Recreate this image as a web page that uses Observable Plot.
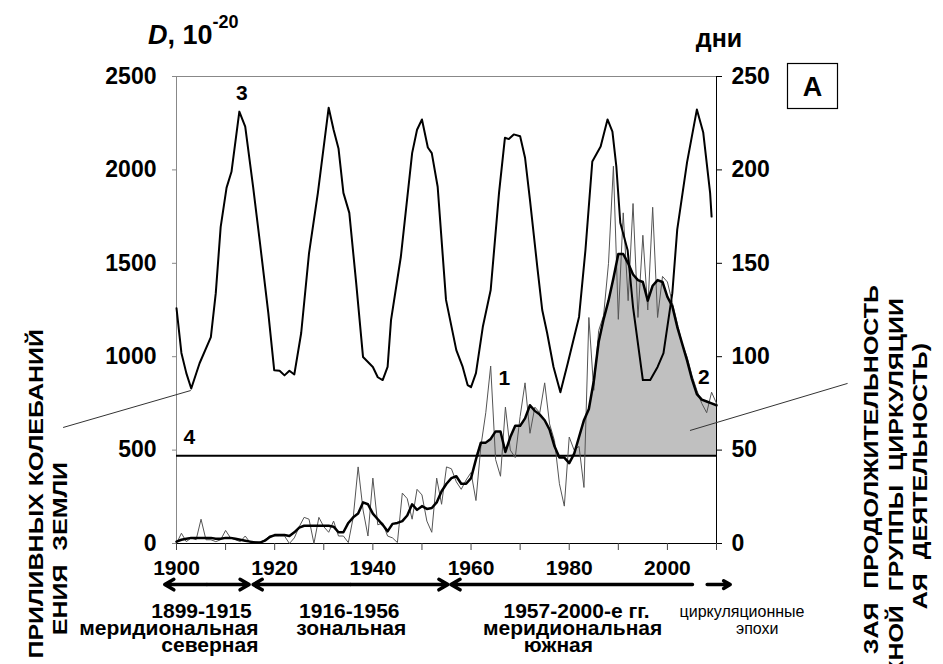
<!DOCTYPE html>
<html><head><meta charset="utf-8">
<script src="https://cdn.jsdelivr.net/npm/d3@7"></script>
<script src="https://cdn.jsdelivr.net/npm/@observablehq/plot@0.6"></script>
<style>
body{margin:0;background:#fff;}
#chart{position:relative;width:943px;height:664px;overflow:hidden;background:#fff;}
</style></head><body><div id="chart"></div>
<script>
// ---- data ----
const years = d3.range(1900, 2011);
// annual duration of the circulation group, days (thin line)
const annualDays = [
  0, 5.5, 1, 3, 2, 13, 2, 2, 1, 2,
  7, 3, 2, 1, 4, 0.5, 1, 0.5, 2, 4,
  4, 4, 4, 0, 3, 9, 14, 13, 0, 14,
  9, 6, 12, 4, 4, 0.5, 14, 41, 18, 4,
  35, 10, 11, 4, 3, 0.5, 27, 24, 13, 29,
  26, 12, 6, 35, 21, 41, 40, 33, 29, 34,
  38, 23, 52, 70, 95, 45, 36, 73, 50, 46,
  68, 86, 59, 73, 70, 86, 64, 55, 32, 20,
  57, 50, 52, 30, 121, 82, 114, 122, 150, 202,
  120, 177, 130, 182, 121, 165, 125, 180, 121, 143,
  140, 129, 118, 107, 100, 90, 82, 75, 70, 81, 75
];
// smoothed duration, days (thick line)
const smoothDays = [
  1, 2, 2.5, 3, 3, 3, 3, 3, 2.5, 2.5,
  3, 3, 2.5, 2, 1.5, 1, 0.5, 0.5, 1.5, 3.5,
  4.5, 4.5, 4.5, 4, 6, 8.5, 9.5, 9.5, 9.5, 9.5,
  9.5, 9.5, 9, 6, 6, 11, 14, 16, 22, 21,
  16, 13, 10, 6.5, 10.5, 11, 12, 15, 21, 18,
  20, 18.5, 19, 22, 28, 32, 35, 36, 32, 32,
  35, 45, 54, 54, 56, 60, 60, 49, 57, 63,
  63, 67, 74, 71, 69, 66, 61, 52, 46, 46,
  43, 48, 57, 66, 72, 87, 108, 120, 130, 142,
  155, 155, 150, 144, 141, 140, 130, 138, 141, 140,
  132, 127, 116, 107, 98, 88, 80, 77, 76, 75, 74
];
// tidal oscillation amplitude D, 10^-20
const tideYears = [1900,1901,1902,1903,1904.7,1907,1908,1909,1910.2,1911.2,1912.8,1914,1915.6,1917,1918.7,1919.9,1921,1922,1923,1924,1925.4,1927,1928.8,1931,1932,1933,1934,1935.2,1936.6,1938,1940,1941,1942,1943,1943.7,1945.7,1948,1949,1950,1951.2,1952,1953.2,1954.9,1957,1958.3,1959.3,1960,1961,1962.4,1964,1965.7,1966.9,1967.7,1968.7,1970,1971,1972,1973.5,1974.5,1975.5,1976.8,1978.2,1979.7,1982,1983.3,1984.7,1986.4,1987.8,1988.8,1989.6,1990.4,1991.9,1993,1995,1996.5,1998,1999.2,2001,2002,2004,2006,2007.3,2008.7,2009];
const tideD = [1260,1020,912,830,965,1105,1340,1695,1905,1990,2312,2232,1910,1610,1234,928,925,900,925,905,1127,1555,1877,2333,2215,2115,1877,1770,1395,998,945,890,875,945,1196,1535,2090,2215,2270,2120,2090,1910,1304,1035,945,848,837,912,1160,1357,1877,2172,2165,2190,2180,2065,1840,1480,1250,1127,945,810,965,1213,1570,2045,2125,2270,2205,2017,1717,1570,1266,875,875,945,1019,1340,1680,2040,2323,2200,1877,1750];
const baselineDays = 47;
const yTicks = [0, 500, 1000, 1500, 2000, 2500];
const xTicks = [1900, 1910, 1920, 1930, 1940, 1950, 1960, 1970, 1980, 1990, 2000, 2010];

// annotation numbers
const markText = ["1", "2", "3", "4"];
const markX = [1966.8, 2007.4, 1913.3, 1902.6];
const markY = [885, 890, 2410, 570];

// era arrows (years) and labels
const arrowFrom = [1906.2, 1906.2, 1935.5, 1935.5, 2005.1, 2008.1];
const arrowTo   = [1897.6, 1914.8, 1915.6, 1955.3, 1955.9, 2012.8];
const eraText = ["1899-1915", "меридиональная", "северная", "1916-1956", "зональная", "1957-2000-е гг.", "меридиональная", "южная"];
const eraX = [1905.1, 1916.7, 1916.7, 1935.2, 1935.6, 1981.5, 1980.7, 1977.8];
const eraRow = [0, 1, 2, 0, 1, 0, 1, 2];
const eraAnchor = ["middle", "end", "end", "middle", "middle", "middle", "middle", "middle"];
const epochText = ["циркуляционные", "эпохи"];
const epochX = [2015.2, 2018.3];
const rowY = [-364, -455, -546];

// leader lines
const leaderX1 = [1876.9, 2036.7], leaderY1 = [621, 857];
const leaderX2 = [1902.9, 2004.6], leaderY2 = [819, 605];

// ---- tables ----
const data = years.map((y, i) => ({year: y, annual: annualDays[i], smooth: smoothDays[i]}));
const tide = tideYears.map((y, i) => ({year: y, D: tideD[i]}));
const marks = markText.map((t, i) => ({t, x: markX[i], y: markY[i]}));
const arrows = arrowFrom.map((a, i) => ({a, b: arrowTo[i]}));
const eras = eraText.map((t, i) => ({t, x: eraX[i], y: rowY[eraRow[i]], anchor: eraAnchor[i]}));
const epochs = epochText.map((t, i) => ({t, x: epochX[i], y: rowY[i]}));
const leaders = leaderX1.map((x, i) => ({x1: x, y1: leaderY1[i], x2: leaderX2[i], y2: leaderY2[i]}));

const FONT = "'Liberation Sans', Arial, sans-serif";

const plot = Plot.plot({
  width: 943, height: 664,
  marginLeft: 176, marginRight: 227, marginTop: 76, marginBottom: 121,
  style: {fontFamily: FONT, fontSize: "22px", fontWeight: "bold", background: "#fff", color: "#000", overflow: "visible"},
  x: {domain: [1900, 2010]},
  y: {domain: [0, 2500]},
  marks: [
    Plot.areaY(data, {x: "year", y1: d => baselineDays * 10, y2: d => Math.max(d.smooth, baselineDays) * 10, fill: "#c0c0c0"}),
    Plot.ruleY([2500], {stroke: "#888", strokeWidth: 1}),
    Plot.ruleX([1900], {stroke: "#888", strokeWidth: 1}),
    Plot.ruleX([2010], {stroke: "#000", strokeWidth: 1}),
    Plot.ruleY([0], {stroke: "#000", strokeWidth: 1}),
    Plot.ruleY([baselineDays * 10], {stroke: "#000", strokeWidth: 2}),
    Plot.line(data, {x: "year", y: d => d.annual * 10, stroke: "#555", strokeWidth: 1}),
    Plot.line(data, {x: "year", y: d => d.smooth * 10, stroke: "#000", strokeWidth: 2.5}),
    Plot.line(tide, {x: "year", y: "D", stroke: "#000", strokeWidth: 2}),
    Plot.axisX({ticks: xTicks, tickFormat: d => d % 20 === 0 ? String(d) : "", tickSize: 7, tickPadding: 10, fontSize: 21, label: null, stroke: "#444"}),
    Plot.axisY({ticks: yTicks, tickFormat: d => String(d), tickSize: 4, tickPadding: 16, fontSize: 23, label: null, stroke: "#888"}),
    Plot.axisY({anchor: "right", ticks: yTicks, tickFormat: d => String(d / 10), tickSize: 5, tickPadding: 10, fontSize: 23, label: null, stroke: "#000"}),
    Plot.text(marks, {x: "x", y: "y", text: "t", fontSize: 21, fontWeight: "bold"}),
    Plot.link(leaders, {x1: "x1", y1: "y1", x2: "x2", y2: "y2", stroke: "#333", strokeWidth: 1}),
    Plot.arrow(arrows, {x1: "a", x2: "b", y1: d => -220, y2: d => -220, stroke: "#000", strokeWidth: 3.5, headLength: 4.5, headAngle: 60, bend: 0, insetStart: 0, insetEnd: 0}),
    Plot.text(eras.filter(d => d.anchor === "middle"), {x: "x", y: "y", text: "t", textAnchor: "middle", fontSize: 21, fontWeight: "bold"}),
    Plot.text(eras.filter(d => d.anchor === "end"), {x: "x", y: "y", text: "t", textAnchor: "end", fontSize: 21, fontWeight: "bold"}),
    Plot.text(epochs, {x: "x", y: "y", text: "t", fontSize: 16, fontWeight: "normal"})
  ]
});

document.getElementById("chart").appendChild(plot);
const svg = d3.select(plot);

// title
const title = svg.append("text").attr("x", 148).attr("y", 44).attr("text-anchor", "start")
  .attr("font-family", FONT).attr("font-weight", "bold").attr("font-size", 27).attr("fill", "#000");
title.append("tspan").attr("font-style", "italic").text("D");
title.append("tspan").text(", 10");
title.append("tspan").attr("font-size", 18).attr("dy", -16).text("-20");

svg.append("text").attr("x", 719).attr("y", 47).attr("text-anchor", "middle")
  .attr("font-family", FONT).attr("font-weight", "bold").attr("font-size", 25).attr("fill", "#000").text("дни");

svg.append("rect").attr("x", 787.5).attr("y", 63.5).attr("width", 50).attr("height", 45)
  .attr("fill", "none").attr("stroke", "#000").attr("stroke-width", 1.2);
svg.append("text").attr("x", 812.5).attr("y", 96).attr("text-anchor", "middle")
  .attr("font-family", FONT).attr("font-weight", "bold").attr("font-size", 27).attr("fill", "#000").text("A");

const side = [
  {t: "ПРИЛИВНЫХ КОЛЕБАНИЙ", x: 43, y: 329},
  {t: "ЕНИЯ  ЗЕМЛИ", x: 67, y: 462},
  {t: "ЗАЯ  ПРОДОЛЖИТЕЛЬНОСТЬ", x: 878, y: 285},
  {t: "КНОЙ  ГРУППЫ  ЦИРКУЛЯЦИИ", x: 903, y: 298},
  {t: "АЯ  ДЕЯТЕЛЬНОСТЬ)", x: 927, y: 343}
];
side.forEach(s => {
  svg.append("text")
    .attr("transform", `translate(${s.x},${s.y}) rotate(-90) scale(1.25,1)`)
    .attr("text-anchor", "end")
    .attr("font-family", FONT).attr("font-weight", "bold").attr("font-size", 20)
    .attr("fill", "#000")
    .style("white-space", "pre")
    .text(s.t);
});
</script>
</body></html>
